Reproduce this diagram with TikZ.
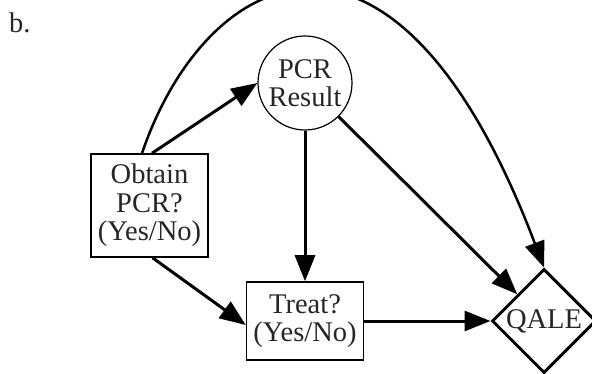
\documentclass[tikz,border=0pt]{standalone}
\usepackage{fontspec}
\setmainfont{Liberation Serif}
\usetikzlibrary{arrows.meta,shapes.geometric}
\begin{document}
\begin{tikzpicture}[x=1pt,y=-1pt,
  lbl/.style={font=\fontsize{28.5}{28.5}\selectfont, text=black!85, align=center},
  box/.style={lbl, draw, line width=1.5pt, inner sep=0pt, minimum width=117pt},
  chance/.style={lbl, circle, draw, line width=1.2pt, inner sep=0pt, minimum size=94pt},
  value/.style={lbl, diamond, draw, line width=3pt, inner sep=0pt,
                minimum width=104pt, minimum height=104pt},
  link/.style={line width=3pt, -{Triangle[length=26pt,width=20pt]}},
]
\clip (0,0) rectangle (592,374);

% panel tag
\node[lbl, anchor=base west, inner sep=0pt] (tag) at (9,33) {b.};

% decision, chance and value nodes
\node[box, minimum height=103pt] (obtain) at (149.5,205.5) {Obtain\\PCR?\\(Yes/No)};
\node[chance] (pcr) at (305,83) {PCR\\Result};
\node[box, minimum height=78pt] (treat) at (305,321) {Treat?\\(Yes/No)};
\node[value] (qale) at (544,321) {QALE};

% influence arcs
\draw[link] ([xshift=2.5pt]obtain.north) -- (pcr.west);
\draw[link] (pcr.south) -- (treat.north);
\draw[link] (pcr.south east) -- (qale.north west);
\draw[link] (treat.east) -- (qale.west);
\draw[link] ([xshift=3pt]obtain.south) -- ([yshift=-4pt]treat.west);
\draw[link, line width=2.5pt] ([xshift=-7.5pt]obtain.north)
  .. controls (205,-32) and (393,-130) .. (qale.north);
\end{tikzpicture}
\end{document}
